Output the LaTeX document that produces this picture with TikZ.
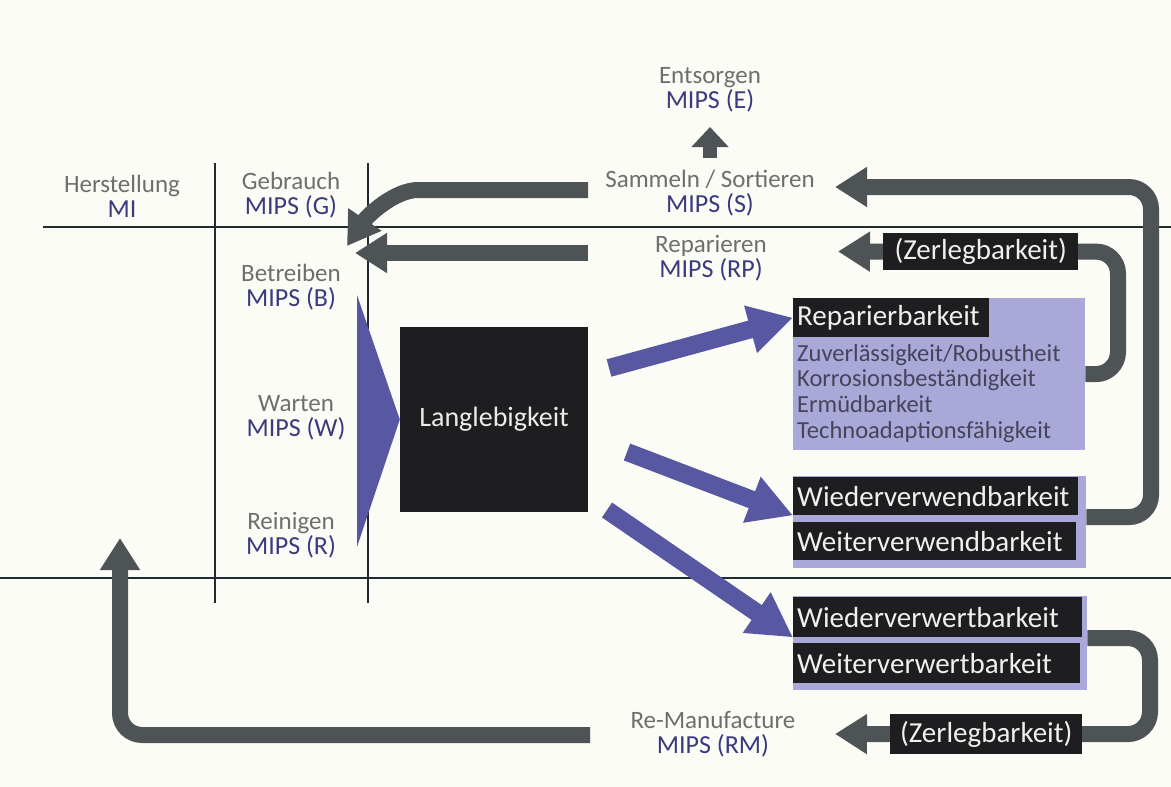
\documentclass[tikz,border=0pt]{standalone}
\usepackage{fontspec}
\setmainfont{Carlito}
\usetikzlibrary{arrows.meta,calc}
\definecolor{paper}{HTML}{FCFCF7}
\definecolor{lblgray}{HTML}{6E6E6E}
\definecolor{mips}{HTML}{3B3A7E}
\definecolor{arrgray}{HTML}{4E5456}
\definecolor{bluearr}{HTML}{5858A2}
\definecolor{lav}{HTML}{A9A8D9}
\definecolor{boxblack}{HTML}{1E1D1F}
\definecolor{listtext}{HTML}{45455A}
\definecolor{rulecol}{HTML}{222A30}
\newcommand\mipsl[1]{{\fontsize{26}{25}\selectfont\color{mips}#1}}
\pgfdeclarelayer{paperlayer}
\pgfdeclarelayer{lines}
\pgfdeclarelayer{arrows}
\pgfsetlayers{paperlayer,lines,arrows,main}
\begin{document}
\begin{tikzpicture}[x=1pt,y=-1pt,
  lbl/.style={align=center,inner sep=0pt,text=lblgray,font=\fontsize{25}{25}\selectfont},
  blk/.style={fill=boxblack,text=white!94!black,inner xsep=4pt,inner ysep=0pt,anchor=north west,font=\fontsize{29}{29}\selectfont,align=left},
  lavbox/.style={fill=lav,inner sep=0pt,anchor=north west},
  garrow/.style={draw=arrgray,line width=16pt,rounded corners=22pt,-{Triangle[length=32pt,width=38pt]}},
  gline/.style={draw=arrgray,line width=16pt,rounded corners=22pt},
  barrow/.style={draw=bluearr,line width=18pt,-{Triangle[length=44pt,width=46pt]}},
  rulel/.style={draw=rulecol,line width=2.2pt}
]
\useasboundingbox (0,0) rectangle (1171,787);
\begin{pgfonlayer}{paperlayer}
\fill[paper] (0,0) rectangle (1171,787);
\end{pgfonlayer}

% labels
\node[lbl] (herst) at (122,196) {Herstellung\\\mipsl{MI}};
\node[lbl] (gebr) at (291,195) {Gebrauch\\\mipsl{MIPS (G)}};
\node[lbl] (betr) at (291,287) {Betreiben\\\mipsl{MIPS (B)}};
\node[lbl] (wart) at (296,418) {Warten\\\mipsl{MIPS (W)}};
\node[lbl] (rein) at (291,535) {Reinigen\\\mipsl{MIPS (R)}};
\node[lbl] (ents) at (710,90) {Entsorgen\\\mipsl{MIPS (E)}};
\node[lbl] (samm) at (710,193) {Sammeln / Sortieren\\\mipsl{MIPS (S)}};
\node[lbl] (repa) at (711,258) {Reparieren\\\mipsl{MIPS (RP)}};
\node[lbl] (reman) at (713,734) {Re-Manufacture\\\mipsl{MIPS (RM)}};

% central box
\node[fill=boxblack,minimum width=188pt,minimum height=185pt,inner sep=0pt,text=white!92!black,font=\fontsize{28}{28}\selectfont] (lang) at (494,419.5) {Langlebigkeit};

% right boxes
\node[lavbox,minimum width=292pt,minimum height=152pt] (lav) at (793,298) {};
\node[blk,text width=188pt,minimum height=39pt] (repb) at (793,298) {Reparierbarkeit};
\node[anchor=north west,align=left,inner sep=0pt,text=listtext,font=\fontsize{24.5}{25.7}\selectfont] (list) at (797,344) {Zuverlässigkeit/Robustheit\\Korrosionsbeständigkeit\\Ermüdbarkeit\\Technoadaptionsfähigkeit};

\node[lavbox,minimum width=293pt,minimum height=92pt] (wvbback) at (793,476) {};
\node[blk,text width=277pt,minimum height=38pt] (wvb) at (793,477) {Wiederverwendbarkeit};
\node[blk,text width=275pt,minimum height=38pt] (wtvb) at (793,522) {Weiterverwendbarkeit};

\node[lavbox,minimum width=294pt,minimum height=94pt] (wvwback) at (793,596) {};
\node[blk,text width=281pt,minimum height=40pt] (wvw) at (793,597) {Wiederverwertbarkeit};
\node[blk,text width=279pt,minimum height=40pt] (wtvw) at (793,643) {Weiterverwertbarkeit};

\node[blk,align=center,text width=187pt,minimum height=37pt] (zer1) at (883,233) {(Zerlegbarkeit)};
\node[blk,align=center,text width=184pt,minimum height=40pt] (zer2) at (890,714) {(Zerlegbarkeit)};

% rules
\begin{pgfonlayer}{lines}
\draw[rulel] (43,227) -- (1171,227);
\draw[rulel] (0,578) -- (1171,578);
\draw[rulel] (215,163) -- (215,603);
\draw[rulel] (368,163) -- (368,603);
\end{pgfonlayer}

% connectors
\begin{pgfonlayer}{arrows}
\fill[bluearr] (357,295) -- (lang.west) -- (357,547) -- cycle;

\coordinate (a1) at (609,368);
\coordinate (a2) at (627,452);
\coordinate (a3) at (607,510);
\draw[barrow] (a1) -- (repb.west);
\draw[barrow] (a2) -- (wvb.south west);
\draw[barrow] (a3) -- (wvw.south west);

\coordinate (sL) at (588,190);
\coordinate (gTip) at (347,246);
\draw[garrow] (sL) -- (440,190) .. controls (395,190) and (368,215) .. (gTip);

\coordinate (rL) at (588,253);
\coordinate (rTip) at (355,253);
\draw[garrow] (rL) -- (rTip);

\coordinate (sTip) at (835,187);
\draw[garrow] ([yshift=5pt]wvbback.east) -- (1151,517) -- (1151,187) -- (sTip);

\draw[gline] (lav.east) -- (1118,374) -- (1118,251.5) -- ([xshift=-5pt]zer1.east);
\coordinate (zTip1) at (838,251.5);
\draw[garrow] ([xshift=5pt]zer1.west) -- (zTip1);

\draw[gline] ([yshift=5pt]wvwback.east) -- (1150,638) -- (1150,734) -- ([xshift=-5pt]zer2.east);
\coordinate (zTip2) at (835,734);
\draw[garrow] ([xshift=5pt]zer2.west) -- (zTip2);

\coordinate (mL) at (590,735);
\coordinate (mTip) at (120,538);
\draw[garrow] (mL) -- (120,735) -- (mTip);

\coordinate (eB) at (710,158);
\coordinate (eT) at (710,127);
\draw[draw=arrgray,line width=14pt,-{Triangle[length=20pt,width=36pt]}] (eB) -- (eT);
\end{pgfonlayer}
\end{tikzpicture}
\end{document}
